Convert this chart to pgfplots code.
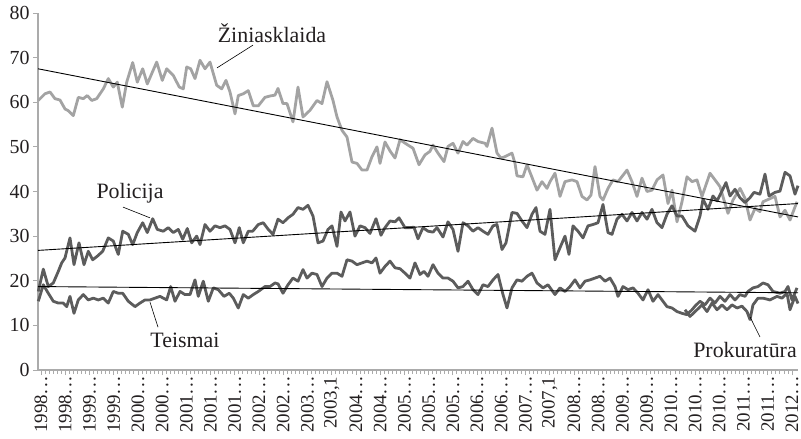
\documentclass[border=0pt]{standalone}
\usepackage{fontspec}
\setmainfont{Liberation Serif}
\usepackage{pgfplots}
\usepackage{pgfplotstable}
\pgfplotsset{compat=1.18}
\definecolor{lightser}{HTML}{A3A3A3}
\definecolor{darkser}{HTML}{5C5C5C}
\definecolor{axisgray}{HTML}{ABABAB}
\definecolor{txt}{HTML}{231F20}
\newcommand{\yl}[1]{#1.\kern0.15em.\kern0.05em.}

\pgfplotstableread{
x y
38.3 60.4
45 61.9
50 62.3
55 60.8
60 60.5
65 58.5
68.3 58.1
73.3 57
78.3 61.1
83.3 60.8
87.3 61.5
91.7 60.4
96.7 60.8
103.3 63
108.3 65.3
113.3 63.4
117.3 64.5
122.3 58.9
126.7 64.5
132.7 68.9
137.3 64.5
142.7 67.5
147.3 64.1
156.7 69
162.3 64.9
166.7 67.5
173.3 66
179.3 63.4
183.3 63
186.7 67.9
190.7 67.5
195 65.3
200 69.4
205 67.5
210 69
216.7 63.8
221.7 63
226 64.9
230 62.3
235 57.4
238.3 61.5
243.3 61.9
248.3 62.6
253.3 59.2
258.3 59.2
265 61.1
270 61.4
275 61.6
278 63.1
283 59.7
287 59.7
293 55.6
298 63.4
303 56.7
310 58.2
317 60.4
322 59.7
327 64.6
333 60.4
337 56.7
342 53.7
347 52.2
352 46.6
357 46.3
362 44.8
367 44.8
372 47.8
377 50
380 46.3
385 51.1
390 49.1
395 47.5
400 51.6
408 50.4
413 49.7
419 46
425 48.2
430 49
433 50.4
438 48.6
444 46.7
448 50.1
453 50.8
458 48.6
463 51.2
467 50.4
473 51.9
478 51.2
485 50.8
487 50.1
492 54.2
497 48.6
501 47.5
505 47.8
512 48.6
515 46.3
517 43.5
523 43.3
527 46
533 42.6
537 40.3
542 42.2
547 40.7
550 42.2
555 44.1
560 38.9
565 42.2
572 42.6
577 42.2
582 38.9
587 38.1
591 39.2
595 45.6
600 38.9
603 38.1
608 40.7
613 42.6
618 42.2
627 44.8
632 42.2
637 38.9
642 43
647 40
652 40.3
657 42.6
663 43.7
668 37.3
672 40.3
677 33.2
682 37.7
687 43.3
692 42.2
697 42.6
702 38.9
710 44.1
715 42.6
720 41.1
728 35.1
733 38.1
740 40.7
745 38.5
750 33.6
755 36.2
760 35.5
763 37.7
775 38.9
780 34.3
785 35.8
790 33.6
797 37.7
}\zin

\pgfplotstableread{
x y
38.3 17.6
43.3 22.6
48.3 18.7
53.3 19.5
58.3 22.1
61.7 24
65 25.1
70 29.6
74 23.6
79 28.5
84 23.6
88.3 26.6
92.7 24.7
97.3 25.5
102.7 26.6
108.3 29.6
113.3 28.9
118.3 25.9
122.7 31.1
128.3 30.4
132.7 28.1
137.3 30.8
142.7 33
147.3 30.8
152.7 33.9
157.3 31.5
163.3 31.1
168.3 31.9
173.3 30.8
178.3 31.5
182.7 29.3
187.3 31.7
191.7 28.5
196.7 30
200 28.1
205 32.6
210 31.1
215 32.3
220 31.9
225 32.3
230 31.5
235 28.5
239.3 31.9
243.3 28.5
248.3 31.1
252.7 31.1
258.3 32.6
263.3 33
268.3 31.5
273 30.4
278 33.8
283 33
288 34.1
293 34.9
298 36.4
303 36
308 36.9
313 34.5
318 28.5
323 28.9
328 31.5
332 32.3
337 27.7
341 35.4
345 33.4
350 35.4
355 30
360 32.3
365 31.9
370 30.6
376 33.9
381 30.2
385 31.9
390 33.4
395 33.2
399 34.1
405 31.9
410 31.9
414 32
418 29.4
423 31.9
428 31.1
433 30.9
437 31.9
443 29.8
448 33.2
453 31.5
458 26.6
463 33
468 32.3
473 31.1
478 31.9
483 31.1
488 30.4
493 32.3
497 32.6
502 27
506 28.5
512 35.3
517 35.1
522 33.4
527 31.9
532 34.9
536 36.4
540 31.1
545 30.4
550 36
555 24.7
560 27.4
565 30
569 25.9
573 32.3
578 31.1
583 29.6
588 32.3
593 32.6
598 33
603 37.1
608 30.8
612 30.4
617 33.8
622 34.9
627 33.4
632 35.3
637 33.4
642 35.3
647 33.8
652 36
657 33
662 31.9
667 34.9
672 36.8
677 34.5
682 34.5
688 32.3
695 31.1
700 34.5
703 38.3
708 36
713 39
717 37.9
722 40.1
726 42
730 39
735 40.5
740 38.6
745 37.5
750 38.6
754 39.8
760 39.4
765 43.9
769 39
775 39.8
780 40.1
785 44.3
790 43.5
795 39.4
798 41.3
}\pol

\pgfplotstableread{
x y
38.3 15.4
43.3 19.1
48.3 17.2
53.3 15.4
58.3 15
63.3 15
66.7 14.2
70 16.5
74 12.7
78.3 15.7
83.3 16.9
88.3 15.7
93.3 16.1
98.3 15.7
103.3 16.1
108.3 15
113.3 17.6
118.3 17.2
122.7 17.2
128.3 15.4
135 14.2
140 15
145 15.7
150 15.7
155 16.1
160 16.5
166.7 15.7
170.7 18.7
175 15.4
180 17.6
185 16.9
190 16.9
195 20.2
198.3 16.5
203.3 19.9
208.3 15.4
213.3 18.4
218.3 18
224 16.5
229.3 17.2
233.3 16.1
238.3 13.9
243.3 16.9
248.3 16.1
253.3 16.9
258.3 17.6
265 18.7
270 18.7
275 19.5
278 19.3
283 17.2
288 19.1
293 20.6
298 19.9
303 22.5
307 20.6
312 21.7
317 21.4
322 18.7
327 20.6
332 21.7
337 21.7
342 21
347 24.7
352 24.4
357 23.6
362 24
367 24.4
372 24
376 25.1
380 21.7
385 23.2
390 24.4
395 22.9
400 22.7
405 21.7
410 20.6
415 24
420 21.4
424 22.1
428 21
433 23.6
438 21.7
443 20.6
448 20.6
453 19.9
458 18.4
463 18.7
468 19.9
473 18
478 16.9
483 19.1
488 18.7
493 20.2
498 21.4
503 16.9
507 13.9
512 18.4
517 20.2
522 19.9
527 21
532 21.7
537 19.5
543 18.4
548 19.1
555 16.9
560 18.4
565 17.6
570 18.7
575 20.2
580 18.4
585 19.9
590 20.2
595 20.6
600 21
605 19.9
610 20.6
615 18.7
618 16.5
623 18.7
628 18
633 18.4
638 17.2
643 15.7
648 18
653 15.4
658 16.9
663 15.4
667 14.2
672 13.9
677 13.1
682 12.7
687 12.4
692 13.5
695 14.3
700 15.4
705 14.6
710 16.1
715 15
720 16.5
725 15.4
730 16.9
735 15.7
740 16.9
745 16.5
748 17.6
753 18.4
758 18.7
763 19.5
768 19.1
773 17.6
780 17.2
785 17.6
788 18.7
792 15.7
797 18.4
}\teis

\pgfplotstableread{
x y
685 13.5
690 12
697 13.5
702 14.6
707 13.1
712 15
717 13.5
722 14.6
727 13.5
732 14.6
737 13.9
742 14.3
747 13.1
750 11.3
753 14.6
758 16.1
763 16.1
770 15.7
777 16.5
782 16.1
787 17.2
790 13.5
795 16.5
798 14.9
}\prok

\begin{document}
\begin{tikzpicture}
\useasboundingbox (-38bp,-69bp) rectangle (763bp,370bp);
\begin{axis}[
  at={(0,0)}, anchor=south west,
  scale only axis, width=760bp, height=357bp,
  xmin=38, xmax=798, ymin=0, ymax=80,
  axis x line*=bottom, axis y line*=left,
  axis line style={axisgray, line width=1.2pt},
  ytick={0,10,...,80},
  xtick={41,65.226,...,793},
  xticklabels={\yl{1998},\yl{1998},\yl{1999},\yl{1999},\yl{2000},\yl{2000},\yl{2001},\yl{2001},\yl{2001},\yl{2002},\yl{2002},\yl{2003},{2003,1},\yl{2004},\yl{2004},\yl{2005},\yl{2005},\yl{2005},\yl{2006},\yl{2006},\yl{2007},{2007,1},\yl{2008},\yl{2008},\yl{2009},\yl{2009},\yl{2010},\yl{2010},\yl{2010},\yl{2011},\yl{2011},\yl{2012}},
  minor x tick num=5,
  tick style={axisgray, line width=0.8pt},
  major tick length=5bp, minor tick length=4bp,
  tick align=outside,
  yticklabel style={font=\fontsize{20}{22}\selectfont, text=txt},
  xticklabel style={font=\fontsize{19}{21}\selectfont, rotate=90, anchor=east, text=txt, inner xsep=1.5bp, inner ysep=0pt},
  /pgf/number format/assume math mode=true,
  clip=false,
]
\addplot[lightser, line width=2.8bp, line join=round] table[x=x,y=y]{\zin};
\addplot[darkser, line width=2.8bp, line join=round] table[x=x,y=y]{\pol};
\addplot[darkser, line width=2.8bp, line join=round] table[x=x,y=y]{\teis};
\addplot[darkser, line width=2.8bp, line join=round] table[x=x,y=y]{\prok};
\addplot[black, line width=0.9bp] coordinates {(38,67.5) (798,34.3)};
\addplot[black, line width=0.9bp] coordinates {(38,26.8) (798,37.3)};
\addplot[black, line width=0.9bp] coordinates {(38,18.7) (798,17.3)};
\begin{scope}[every node/.style={font=\fontsize{22}{26}\selectfont, text=txt}]
\node at (axis cs:272,75.5) {Žiniasklaida};
\node at (axis cs:130,39.7) {Policija};
\node at (axis cs:185,6.7) {Teismai};
\node at (axis cs:745,4.5) {Prokuratūra};
\end{scope}
\draw[black, line width=0.6bp] (axis cs:253,72.8) -- (axis cs:217,67.7);
\draw[black, line width=0.6bp] (axis cs:123,36.5) -- (axis cs:150,34.1);
\draw[black, line width=0.6bp] (axis cs:158,9.6) -- (axis cs:150,15.2);
\draw[black, line width=0.6bp] (axis cs:760,7.4) -- (axis cs:750,11.9);
\end{axis}
\end{tikzpicture}
\end{document}
